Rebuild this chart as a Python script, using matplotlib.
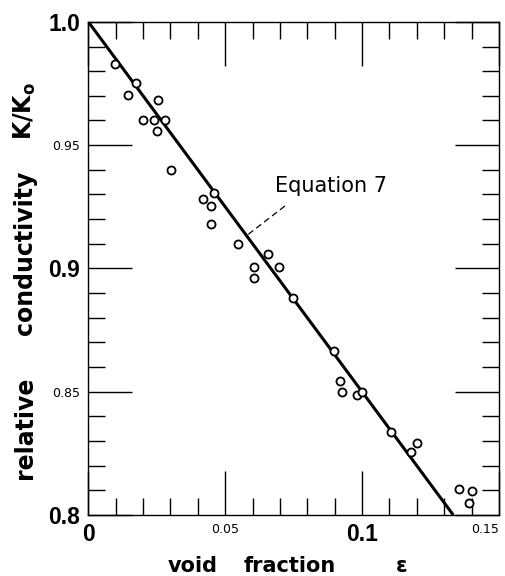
import numpy as np
import matplotlib
matplotlib.use("Agg")
import matplotlib.pyplot as plt
from matplotlib.ticker import MultipleLocator

# measured points: void fraction vs relative conductivity K/K0
eps = [0.0097, 0.0174, 0.0146, 0.0201, 0.0255, 0.0240, 0.0250, 0.0280,
       0.0302, 0.0417, 0.0460, 0.0448, 0.0448, 0.0545, 0.0605, 0.0605,
       0.0657, 0.0697, 0.0748, 0.0898, 0.0921, 0.0925, 0.0980, 0.1001,
       0.1105, 0.1180, 0.1202, 0.1354, 0.1403, 0.1391]
k_rel = [0.9828, 0.9753, 0.9704, 0.9601, 0.9682, 0.9604, 0.9558, 0.9601,
         0.9401, 0.9281, 0.9304, 0.9254, 0.9182, 0.9101, 0.9007, 0.8963,
         0.9058, 0.9007, 0.8880, 0.8666, 0.8543, 0.8497, 0.8486, 0.8497,
         0.8337, 0.8254, 0.8293, 0.8104, 0.8098, 0.8049]

# Equation 7 line
line_eps = [0.0, 0.1333]
line_k = [1.0, 0.8]

x_ticks = [0.0, 0.05, 0.1, 0.15]
x_labels = ["0", "0.05", "0.1", "0.15"]
y_ticks = [0.8, 0.85, 0.9, 0.95, 1.0]
y_labels = ["0.8", "0.85", "0.9", "0.95", "1.0"]
big = {"0", "0.1", "0.8", "0.9", "1.0"}

fig = plt.figure(figsize=(5.05, 5.76), dpi=100)
ax = fig.add_axes([0.175, 0.106, 0.813, 0.856])

ax.plot(line_eps, line_k, color="black", linewidth=2.2, zorder=2,
        solid_capstyle="butt")
ax.plot(eps, k_rel, linestyle="none", marker="o", markersize=5.8,
        markerfacecolor="white", markeredgecolor="black",
        markeredgewidth=1.3, zorder=3, clip_on=False)

# label + dashed leader
ax.text(0.0681, 0.9334, "Equation 7", fontsize=15, ha="left", va="center")
ax.plot([0.0718, 0.0578], [0.9253, 0.9133], color="black", linewidth=0.9,
        linestyle=(0, (5, 3)))

ax.set_xlim(0, 0.15)
ax.set_ylim(0.8, 1.0)
ax.xaxis.set_major_locator(MultipleLocator(0.05))
ax.xaxis.set_minor_locator(MultipleLocator(0.01))
ax.yaxis.set_major_locator(MultipleLocator(0.05))
ax.yaxis.set_minor_locator(MultipleLocator(0.01))
ax.tick_params(which="both", direction="in", top=True, right=True,
               width=1.0, color="black")
ax.tick_params(which="major", length=32)
ax.tick_params(which="minor", length=12)
ax.tick_params(axis="x", which="major", pad=6)
ax.tick_params(axis="y", which="major", pad=6)
for s in ax.spines.values():
    s.set_linewidth(1.0)

ax.set_xticks(x_ticks)
ax.set_xticklabels(x_labels)
ax.set_yticks(y_ticks)
ax.set_yticklabels(y_labels)
for lab in ax.get_xticklabels() + ax.get_yticklabels():
    if lab.get_text() in big:
        lab.set_fontfamily("Liberation Sans")
        lab.set_fontsize(16.5)
        lab.set_fontweight("bold")
    else:
        lab.set_fontsize(9)
for lab in ax.get_xticklabels():
    lab.set_verticalalignment("top")
    if lab.get_text() == "0.15":
        lab.set_horizontalalignment("right")

# axis titles
lab_kw = dict(fontsize=17, fontweight="bold", ha="center", va="center",
              rotation=90)
fig.text(25 / 505, 1 - 428 / 576, "relative", **lab_kw)
fig.text(25 / 505, 1 - 253 / 576, "conductivity", **lab_kw)
fig.text(25 / 505, 1 - 111 / 576, r"K/K$_\mathregular{o}$", **lab_kw)
x_kw = dict(fontsize=15, fontweight="bold", ha="center", va="center")
fig.text(193 / 505, 1 - 566 / 576, "void", **x_kw)
fig.text(290 / 505, 1 - 566 / 576, "fraction", **x_kw)
fig.text(402 / 505, 1 - 566 / 576, "ε", **x_kw)

fig.savefig("out.png", dpi=100)
